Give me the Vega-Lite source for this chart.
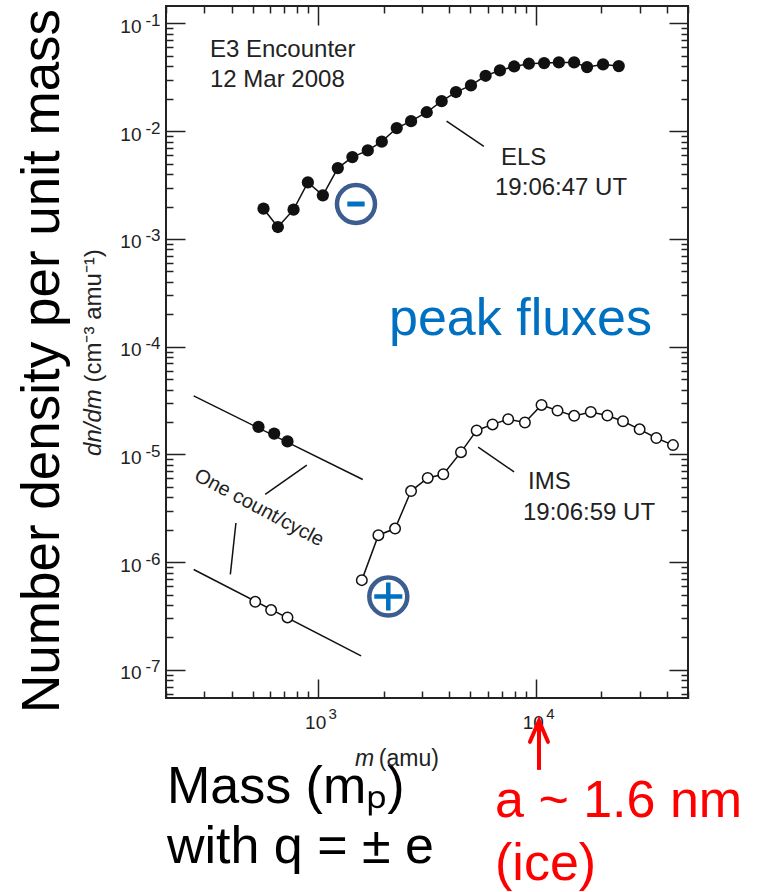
{
  "$schema": "https://vega.github.io/schema/vega-lite/v6.json",
  "width": 522,
  "height": 692,
  "autosize": {"type": "none"},
  "padding": {"left": 166, "top": 6, "right": 78, "bottom": 194},
  "background": "white",
  "config": {
    "view": {"stroke": "#222", "strokeWidth": 2},
    "font": "Liberation Sans, Arial, Helvetica, sans-serif",
    "axis": {"grid": false, "domain": false, "title": null, "labelFont": "Liberation Sans, Arial, sans-serif", "labelColor": "#222", "tickColor": "#222", "tickWidth": 1.5, "labelFlush": false, "labelOverlap": false, "labelBound": false}
  },
  "datasets": {
    "els": [
      {"m": 561, "v": 0.00191}, {"m": 653, "v": 0.00129}, {"m": 771, "v": 0.00187}, {"m": 897, "v": 0.00335},
      {"m": 1051, "v": 0.00254}, {"m": 1231, "v": 0.00455}, {"m": 1436, "v": 0.00575}, {"m": 1690, "v": 0.00664},
      {"m": 1960, "v": 0.0080}, {"m": 2296, "v": 0.0107}, {"m": 2672, "v": 0.0124}, {"m": 3153, "v": 0.0150},
      {"m": 3692, "v": 0.0190}, {"m": 4296, "v": 0.0231}, {"m": 5034, "v": 0.0266}, {"m": 5878, "v": 0.0327},
      {"m": 6839, "v": 0.0367}, {"m": 7950, "v": 0.0399}, {"m": 9290, "v": 0.0423}, {"m": 10915, "v": 0.0429},
      {"m": 12754, "v": 0.0435}, {"m": 14990, "v": 0.0435}, {"m": 17190, "v": 0.0394}, {"m": 20360, "v": 0.0417},
      {"m": 24040, "v": 0.0402}
    ],
    "ims": [
      {"m": 1587, "v": 6.81e-7}, {"m": 1891, "v": 1.78e-6}, {"m": 2256, "v": 2.05e-6}, {"m": 2672, "v": 4.57e-6},
      {"m": 3186, "v": 6.05e-6}, {"m": 3758, "v": 6.55e-6}, {"m": 4531, "v": 1.05e-5}, {"m": 5348, "v": 1.67e-5},
      {"m": 6328, "v": 1.90e-5}, {"m": 7463, "v": 2.12e-5}, {"m": 8907, "v": 1.98e-5}, {"m": 10620, "v": 2.88e-5},
      {"m": 12580, "v": 2.55e-5}, {"m": 15000, "v": 2.28e-5}, {"m": 17880, "v": 2.48e-5}, {"m": 21310, "v": 2.30e-5},
      {"m": 25140, "v": 2.03e-5}, {"m": 29980, "v": 1.71e-5}, {"m": 35770, "v": 1.42e-5}, {"m": 42660, "v": 1.22e-5}
    ],
    "segments": [
      {"x": 268, "y": 3.49e-5, "x2": 1603, "y2": 5.85e-6},
      {"x": 268, "y": 8.55e-7, "x2": 1575, "y2": 1.35e-7},
      {"x": 3890, "y": 0.0124, "x2": 5770, "y2": 0.00723},
      {"x": 5433, "y": 1.17e-5, "x2": 7943, "y2": 6.89e-6},
      {"x": 887, "y": 7.94e-6, "x2": 571, "y2": 4.25e-6},
      {"x": 419, "y": 2.31e-6, "x2": 395, "y2": 7.69e-7}
    ],
    "ccFilled": [{"m": 532, "v": 1.80e-5}, {"m": 628, "v": 1.56e-5}, {"m": 723, "v": 1.32e-5}],
    "ccOpen": [{"m": 514, "v": 4.28e-7}, {"m": 608, "v": 3.59e-7}, {"m": 723, "v": 3.07e-7}],
    "notes": [
      {"x": 318.5, "y": 0.0489, "t": "E3 Encounter"},
      {"x": 318.5, "y": 0.0258, "t": "12 Mar 2008"},
      {"x": 6917, "y": 0.00486, "t": "ELS"},
      {"x": 6493, "y": 0.00256, "t": "19:06:47 UT"},
      {"x": 9203, "y": 4.78e-6, "t": "IMS"},
      {"x": 8730, "y": 2.47e-6, "t": "19:06:59 UT"}
    ],
    "peak": [{"x": 2115, "y": 0.0001285, "t": "peak fluxes"}],
    "occ": [{"x": 535, "y": 3.19e-6, "t": "One count/cycle"}],
    "bigY": [{"x": 64.5, "y": 7.38e-5, "t": "Number density per unit mass"}],
    "blackBottom": [
      {"x": 202, "y": 5.83e-9, "t": "Mass (mₚ)"},
      {"x": 202, "y": 1.62e-9, "t": "with q = ± e"}
    ],
    "redBottom": [
      {"x": 6493, "y": 4.32e-9, "t": "a ~ 1.6 nm"},
      {"x": 6493, "y": 1.12e-9, "t": "(ice)"}
    ],
    "xTitleItalic": [{"x": 1476, "y": 1.285e-8, "t": "m"}],
    "xTitleRest": [{"x": 1900, "y": 1.285e-8, "t": "(amu)"}],
    "yTitleItalic": [{"x": 100.6, "y": 9.68e-6, "t": "dn/dm"}],
    "yTitleRest": [{"x": 100.6, "y": 4.65e-5, "t": "(cm⁻³ amu⁻¹)"}],
    "badges": [{"x": 1492, "y": 0.00211, "sign": "-"}, {"x": 2100, "y": 4.79e-7, "sign": "+"}],
    "arrowShaft": [{"x": 10337, "y": 1.18e-8, "y2": 3.29e-8}],
    "arrowHead": [{"x": 9397, "y": 2.15e-8}, {"x": 10337, "y": 3.37e-8}, {"x": 11370, "y": 2.15e-8}]
  },
  "layer": [
    {
      "data": {"name": "els"},
      "mark": {"type": "line", "color": "#111", "strokeWidth": 1.5},
      "encoding": {
        "x": {"field": "m", "type": "quantitative", "scale": {"type": "log", "domain": [200, 50000], "nice": false},
          "axis": {"orient": "bottom", "labels": false, "values": [200,300,400,500,600,700,800,900,1000,2000,3000,4000,5000,6000,7000,8000,9000,10000,20000,30000,40000,50000],
            "tickSize": {"condition": {"test": "abs(log(datum.value)/LN10 - round(log(datum.value)/LN10)) < 0.001", "value": -19}, "value": -7}}},
        "y": {"field": "v", "type": "quantitative", "scale": {"type": "log", "domain": [5.484e-8, 0.1453], "nice": false},
          "axis": {"orient": "left", "labels": false, "values": [6e-8,7e-8,8e-8,9e-8,1e-7,2e-7,3e-7,4e-7,5e-7,6e-7,7e-7,8e-7,9e-7,1e-6,2e-6,3e-6,4e-6,5e-6,6e-6,7e-6,8e-6,9e-6,1e-5,2e-5,3e-5,4e-5,5e-5,6e-5,7e-5,8e-5,9e-5,1e-4,2e-4,3e-4,4e-4,5e-4,6e-4,7e-4,8e-4,9e-4,1e-3,2e-3,3e-3,4e-3,5e-3,6e-3,7e-3,8e-3,9e-3,0.01,0.02,0.03,0.04,0.05,0.06,0.07,0.08,0.09,0.1],
            "tickSize": {"condition": {"test": "abs(log(datum.value)/LN10 - round(log(datum.value)/LN10)) < 0.001", "value": -19}, "value": -7}}}
      }
    },
    {
      "data": {"name": "els"},
      "mark": {"type": "point", "shape": "circle", "filled": true, "color": "#111", "size": 150, "opacity": 1},
      "encoding": {
        "x": {"field": "m", "type": "quantitative", "scale": {"type": "log", "domain": [200, 50000], "nice": false},
          "axis": {"orient": "top", "labels": false, "values": [200,300,400,500,600,700,800,900,1000,2000,3000,4000,5000,6000,7000,8000,9000,10000,20000,30000,40000,50000],
            "tickSize": {"condition": {"test": "abs(log(datum.value)/LN10 - round(log(datum.value)/LN10)) < 0.001", "value": -19}, "value": -7}}},
        "y": {"field": "v", "type": "quantitative", "scale": {"type": "log", "domain": [5.484e-8, 0.1453], "nice": false},
          "axis": {"orient": "right", "labels": false, "values": [6e-8,7e-8,8e-8,9e-8,1e-7,2e-7,3e-7,4e-7,5e-7,6e-7,7e-7,8e-7,9e-7,1e-6,2e-6,3e-6,4e-6,5e-6,6e-6,7e-6,8e-6,9e-6,1e-5,2e-5,3e-5,4e-5,5e-5,6e-5,7e-5,8e-5,9e-5,1e-4,2e-4,3e-4,4e-4,5e-4,6e-4,7e-4,8e-4,9e-4,1e-3,2e-3,3e-3,4e-3,5e-3,6e-3,7e-3,8e-3,9e-3,0.01,0.02,0.03,0.04,0.05,0.06,0.07,0.08,0.09,0.1],
            "tickSize": {"condition": {"test": "abs(log(datum.value)/LN10 - round(log(datum.value)/LN10)) < 0.001", "value": -19}, "value": -7}}}
      }
    },
    {
      "data": {"name": "ims"},
      "mark": {"type": "line", "color": "#111", "strokeWidth": 1.5},
      "encoding": {
        "x": {"field": "m", "type": "quantitative", "scale": {"type": "log", "domain": [200, 50000], "nice": false},
          "axis": {"orient": "bottom", "ticks": false, "values": [1000, 10000], "labelExpr": "'10'", "labelFontSize": 19, "labelBaseline": "alphabetic", "labelAlign": "center", "labelPadding": 30, "labelOffset": -3}},
        "y": {"field": "v", "type": "quantitative", "scale": {"type": "log", "domain": [5.484e-8, 0.1453], "nice": false},
          "axis": {"orient": "left", "ticks": false, "values": [1e-7, 1e-6, 1e-5, 1e-4, 1e-3, 0.01, 0.1], "labelExpr": "'10'", "labelFontSize": 19, "labelBaseline": "middle", "labelAlign": "right", "labelPadding": 25, "labelOffset": 3}}
      }
    },
    {
      "data": {"name": "ims"},
      "mark": {"type": "point", "shape": "circle", "filled": true, "fill": "white", "stroke": "#111", "strokeWidth": 1.5, "size": 110, "opacity": 1},
      "encoding": {
        "x": {"field": "m", "type": "quantitative", "scale": {"type": "log", "domain": [200, 50000], "nice": false},
          "axis": {"orient": "bottom", "ticks": false, "values": [1000, 10000], "labelExpr": "'' + round(log(datum.value)/LN10)", "labelFontSize": 15, "labelBaseline": "alphabetic", "labelAlign": "center", "labelPadding": 20, "labelOffset": 14}},
        "y": {"field": "v", "type": "quantitative", "scale": {"type": "log", "domain": [5.484e-8, 0.1453], "nice": false},
          "axis": {"orient": "left", "ticks": false, "values": [1e-7, 1e-6, 1e-5, 1e-4, 1e-3, 0.01, 0.1], "labelExpr": "'-' + (-round(log(datum.value)/LN10))", "labelFontSize": 17, "labelBaseline": "middle", "labelAlign": "right", "labelPadding": 6, "labelOffset": -3}}
      }
    },
    {
      "data": {"name": "segments"},
      "mark": {"type": "rule", "color": "#111", "strokeWidth": 1.5},
      "encoding": {
        "x": {"field": "x", "type": "quantitative", "scale": {"type": "log", "domain": [200, 50000], "nice": false}, "axis": null},
        "x2": {"field": "x2"},
        "y": {"field": "y", "type": "quantitative", "scale": {"type": "log", "domain": [5.484e-8, 0.1453], "nice": false}, "axis": null},
        "y2": {"field": "y2"}
      }
    },
    {
      "data": {"name": "ccFilled"},
      "mark": {"type": "point", "shape": "circle", "filled": true, "color": "#111", "size": 150, "opacity": 1},
      "encoding": {
        "x": {"field": "m", "type": "quantitative", "scale": {"type": "log", "domain": [200, 50000], "nice": false}, "axis": null},
        "y": {"field": "v", "type": "quantitative", "scale": {"type": "log", "domain": [5.484e-8, 0.1453], "nice": false}, "axis": null}
      }
    },
    {
      "data": {"name": "ccOpen"},
      "mark": {"type": "point", "shape": "circle", "filled": true, "fill": "white", "stroke": "#111", "strokeWidth": 1.5, "size": 110, "opacity": 1},
      "encoding": {
        "x": {"field": "m", "type": "quantitative", "scale": {"type": "log", "domain": [200, 50000], "nice": false}, "axis": null},
        "y": {"field": "v", "type": "quantitative", "scale": {"type": "log", "domain": [5.484e-8, 0.1453], "nice": false}, "axis": null}
      }
    },
    {
      "data": {"name": "notes"},
      "mark": {"type": "text", "align": "left", "baseline": "alphabetic", "fontSize": 24, "color": "#222"},
      "encoding": {
        "x": {"field": "x", "type": "quantitative", "scale": {"type": "log", "domain": [200, 50000], "nice": false}, "axis": null},
        "y": {"field": "y", "type": "quantitative", "scale": {"type": "log", "domain": [5.484e-8, 0.1453], "nice": false}, "axis": null},
        "text": {"field": "t"}
      }
    },
    {
      "data": {"name": "peak"},
      "mark": {"type": "text", "align": "left", "baseline": "alphabetic", "fontSize": 52, "color": "#0070C0"},
      "encoding": {
        "x": {"field": "x", "type": "quantitative", "scale": {"type": "log", "domain": [200, 50000], "nice": false}, "axis": null},
        "y": {"field": "y", "type": "quantitative", "scale": {"type": "log", "domain": [5.484e-8, 0.1453], "nice": false}, "axis": null},
        "text": {"field": "t"}
      }
    },
    {
      "data": {"name": "occ"},
      "mark": {"type": "text", "align": "center", "baseline": "middle", "fontSize": 20, "color": "#222", "angle": 28},
      "encoding": {
        "x": {"field": "x", "type": "quantitative", "scale": {"type": "log", "domain": [200, 50000], "nice": false}, "axis": null},
        "y": {"field": "y", "type": "quantitative", "scale": {"type": "log", "domain": [5.484e-8, 0.1453], "nice": false}, "axis": null},
        "text": {"field": "t"}
      }
    },
    {
      "data": {"name": "bigY"},
      "mark": {"type": "text", "align": "center", "baseline": "alphabetic", "fontSize": 53, "color": "#000", "angle": 270},
      "encoding": {
        "x": {"field": "x", "type": "quantitative", "scale": {"type": "log", "domain": [200, 50000], "nice": false}, "axis": null},
        "y": {"field": "y", "type": "quantitative", "scale": {"type": "log", "domain": [5.484e-8, 0.1453], "nice": false}, "axis": null},
        "text": {"field": "t"}
      }
    },
    {
      "data": {"name": "blackBottom"},
      "mark": {"type": "text", "align": "left", "baseline": "alphabetic", "fontSize": 52, "color": "#000"},
      "encoding": {
        "x": {"field": "x", "type": "quantitative", "scale": {"type": "log", "domain": [200, 50000], "nice": false}, "axis": null},
        "y": {"field": "y", "type": "quantitative", "scale": {"type": "log", "domain": [5.484e-8, 0.1453], "nice": false}, "axis": null},
        "text": {"field": "t"}
      }
    },
    {
      "data": {"name": "redBottom"},
      "mark": {"type": "text", "align": "left", "baseline": "alphabetic", "fontSize": 52, "color": "#FF0000"},
      "encoding": {
        "x": {"field": "x", "type": "quantitative", "scale": {"type": "log", "domain": [200, 50000], "nice": false}, "axis": null},
        "y": {"field": "y", "type": "quantitative", "scale": {"type": "log", "domain": [5.484e-8, 0.1453], "nice": false}, "axis": null},
        "text": {"field": "t"}
      }
    },
    {
      "data": {"name": "xTitleItalic"},
      "mark": {"type": "text", "align": "left", "baseline": "alphabetic", "fontSize": 23, "fontStyle": "italic", "color": "#222"},
      "encoding": {
        "x": {"field": "x", "type": "quantitative", "scale": {"type": "log", "domain": [200, 50000], "nice": false}, "axis": null},
        "y": {"field": "y", "type": "quantitative", "scale": {"type": "log", "domain": [5.484e-8, 0.1453], "nice": false}, "axis": null},
        "text": {"field": "t"}
      }
    },
    {
      "data": {"name": "xTitleRest"},
      "mark": {"type": "text", "align": "left", "baseline": "alphabetic", "fontSize": 23, "color": "#222"},
      "encoding": {
        "x": {"field": "x", "type": "quantitative", "scale": {"type": "log", "domain": [200, 50000], "nice": false}, "axis": null},
        "y": {"field": "y", "type": "quantitative", "scale": {"type": "log", "domain": [5.484e-8, 0.1453], "nice": false}, "axis": null},
        "text": {"field": "t"}
      }
    },
    {
      "data": {"name": "yTitleItalic"},
      "mark": {"type": "text", "align": "left", "baseline": "alphabetic", "fontSize": 24, "fontStyle": "italic", "color": "#222", "angle": 270},
      "encoding": {
        "x": {"field": "x", "type": "quantitative", "scale": {"type": "log", "domain": [200, 50000], "nice": false}, "axis": null},
        "y": {"field": "y", "type": "quantitative", "scale": {"type": "log", "domain": [5.484e-8, 0.1453], "nice": false}, "axis": null},
        "text": {"field": "t"}
      }
    },
    {
      "data": {"name": "yTitleRest"},
      "mark": {"type": "text", "align": "left", "baseline": "alphabetic", "fontSize": 24, "color": "#222", "angle": 270},
      "encoding": {
        "x": {"field": "x", "type": "quantitative", "scale": {"type": "log", "domain": [200, 50000], "nice": false}, "axis": null},
        "y": {"field": "y", "type": "quantitative", "scale": {"type": "log", "domain": [5.484e-8, 0.1453], "nice": false}, "axis": null},
        "text": {"field": "t"}
      }
    },
    {
      "data": {"name": "badges"},
      "mark": {"type": "point", "shape": "circle", "filled": false, "fill": "white", "stroke": "#3C5D8F", "strokeWidth": 4.5, "size": 1444, "opacity": 1},
      "encoding": {
        "x": {"field": "x", "type": "quantitative", "scale": {"type": "log", "domain": [200, 50000], "nice": false}, "axis": null},
        "y": {"field": "y", "type": "quantitative", "scale": {"type": "log", "domain": [5.484e-8, 0.1453], "nice": false}, "axis": null}
      }
    },
    {
      "data": {"name": "badges"},
      "transform": [{"filter": "datum.sign == '-'"}],
      "mark": {"type": "point", "shape": "M-1,0H1", "filled": false, "stroke": "#0070C0", "strokeWidth": 5, "size": 300, "opacity": 1},
      "encoding": {
        "x": {"field": "x", "type": "quantitative", "scale": {"type": "log", "domain": [200, 50000], "nice": false}, "axis": null},
        "y": {"field": "y", "type": "quantitative", "scale": {"type": "log", "domain": [5.484e-8, 0.1453], "nice": false}, "axis": null}
      }
    },
    {
      "data": {"name": "badges"},
      "transform": [{"filter": "datum.sign == '+'"}],
      "mark": {"type": "point", "shape": "M-1,0H1M0,-1V1", "filled": false, "stroke": "#0070C0", "strokeWidth": 4.5, "size": 784, "opacity": 1},
      "encoding": {
        "x": {"field": "x", "type": "quantitative", "scale": {"type": "log", "domain": [200, 50000], "nice": false}, "axis": null},
        "y": {"field": "y", "type": "quantitative", "scale": {"type": "log", "domain": [5.484e-8, 0.1453], "nice": false}, "axis": null}
      }
    },
    {
      "data": {"name": "arrowShaft"},
      "mark": {"type": "rule", "color": "#FF0000", "strokeWidth": 4},
      "encoding": {
        "x": {"field": "x", "type": "quantitative", "scale": {"type": "log", "domain": [200, 50000], "nice": false}, "axis": null},
        "y": {"field": "y", "type": "quantitative", "scale": {"type": "log", "domain": [5.484e-8, 0.1453], "nice": false}, "axis": null},
        "y2": {"field": "y2"}
      }
    },
    {
      "data": {"name": "arrowHead"},
      "mark": {"type": "line", "color": "#FF0000", "strokeWidth": 4, "strokeCap": "round", "strokeJoin": "miter"},
      "encoding": {
        "x": {"field": "x", "type": "quantitative", "scale": {"type": "log", "domain": [200, 50000], "nice": false}, "axis": null},
        "y": {"field": "y", "type": "quantitative", "scale": {"type": "log", "domain": [5.484e-8, 0.1453], "nice": false}, "axis": null}
      }
    }
  ],
  "resolve": {"axis": {"x": "independent", "y": "independent"}}
}
